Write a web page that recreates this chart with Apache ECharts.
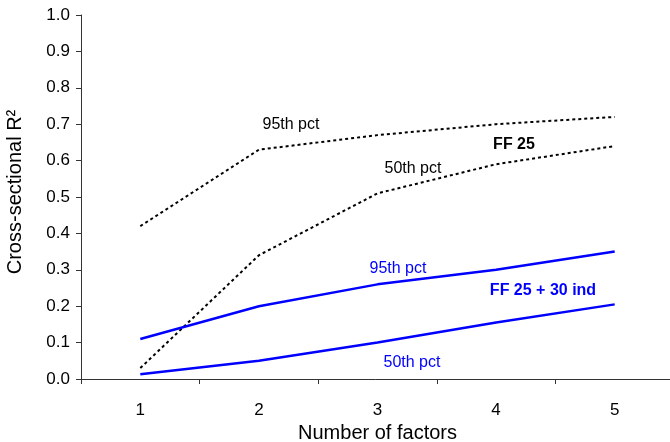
<!DOCTYPE html>
<html>
<head>
<meta charset="utf-8">
<script src="https://cdn.jsdelivr.net/npm/echarts@6/dist/echarts.min.js"></script>
<style>
html,body{margin:0;padding:0;background:#fff;}
#c{width:670px;height:442px;}
</style>
</head>
<body>
<div id="c"></div>
<script>
var categories = ['1', '2', '3', '4', '5'];
var ff25_p95 = [0.42, 0.63, 0.67, 0.70, 0.72];
var ff25_p50 = [0.03, 0.34, 0.51, 0.59, 0.64];
var ind_p95 = [0.11, 0.20, 0.26, 0.30, 0.35];
var ind_p50 = [0.013, 0.05, 0.10, 0.155, 0.205];
var yTicks = [0, 0.1, 0.2, 0.3, 0.4, 0.5, 0.6, 0.7, 0.8, 0.9, 1.0];

var FONT = 'Liberation Sans, Arial, sans-serif';
var chart = echarts.init(document.getElementById('c'), null, {renderer: 'canvas'});

function dottedSeries(name, data) {
  return {
    name: name, type: 'line', data: data, symbol: 'none', silent: true,
    lineStyle: {color: '#000', width: 2, type: [3, 3]}
  };
}
function solidSeries(name, data) {
  return {
    name: name, type: 'line', data: data, symbol: 'none', silent: true,
    lineStyle: {color: '#0000ff', width: 2.5}
  };
}

var option = {
  animation: false,
  backgroundColor: '#fff',
  grid: {left: 81, top: 15, width: 593, height: 364, containLabel: false, outerBoundsMode: 'none'},
  xAxis: {
    type: 'category',
    data: categories,
    boundaryGap: true,
    name: 'Number of factors',
    nameLocation: 'middle',
    nameGap: 43,
    nameTextStyle: {fontFamily: FONT, fontSize: 20, color: '#000'},
    axisLine: {lineStyle: {color: '#333', width: 1}},
    axisTick: {show: true, length: 5, inside: false, lineStyle: {color: '#333'}},
    axisLabel: {fontFamily: FONT, fontSize: 17, color: '#000', margin: 23},
    splitLine: {show: false}
  },
  yAxis: {
    type: 'value',
    min: 0, max: 1, interval: 0.1,
    axisLine: {show: true, lineStyle: {color: '#333', width: 1}},
    axisTick: {show: true, length: 5, lineStyle: {color: '#333'}},
    axisLabel: {
      fontFamily: FONT, fontSize: 17, color: '#000', margin: 11,
      formatter: function (v) { return v.toFixed(1); }
    },
    splitLine: {show: false}
  },
  series: [
    dottedSeries('FF 25 95th pct', ff25_p95),
    dottedSeries('FF 25 50th pct', ff25_p50),
    solidSeries('FF 25 + 30 ind 95th pct', ind_p95),
    solidSeries('FF 25 + 30 ind 50th pct', ind_p50)
  ],
  graphic: [
    {type: 'text', x: 15, y: 192, rotation: Math.PI / 2,
     style: {text: 'Cross-sectional R²', fontFamily: FONT, fontSize: 20, fill: '#000', align: 'center', verticalAlign: 'middle'}},
    {type: 'text', x: 291, y: 125,
     style: {text: '95th pct', fontFamily: FONT, fontSize: 16, fill: '#000', align: 'center', verticalAlign: 'middle'}},
    {type: 'text', x: 413, y: 169,
     style: {text: '50th pct', fontFamily: FONT, fontSize: 16, fill: '#000', align: 'center', verticalAlign: 'middle'}},
    {type: 'text', x: 514, y: 145,
     style: {text: 'FF 25', fontFamily: FONT, fontSize: 16, fontWeight: 'bold', fill: '#000', align: 'center', verticalAlign: 'middle'}},
    {type: 'text', x: 398, y: 269,
     style: {text: '95th pct', fontFamily: FONT, fontSize: 16, fill: '#0000ff', align: 'center', verticalAlign: 'middle'}},
    {type: 'text', x: 543, y: 291,
     style: {text: 'FF 25 + 30 ind', fontFamily: FONT, fontSize: 16, fontWeight: 'bold', fill: '#0000ff', align: 'center', verticalAlign: 'middle'}},
    {type: 'text', x: 412, y: 363,
     style: {text: '50th pct', fontFamily: FONT, fontSize: 16, fill: '#0000ff', align: 'center', verticalAlign: 'middle'}}
  ]
};
chart.setOption(option);
</script>
</body>
</html>
